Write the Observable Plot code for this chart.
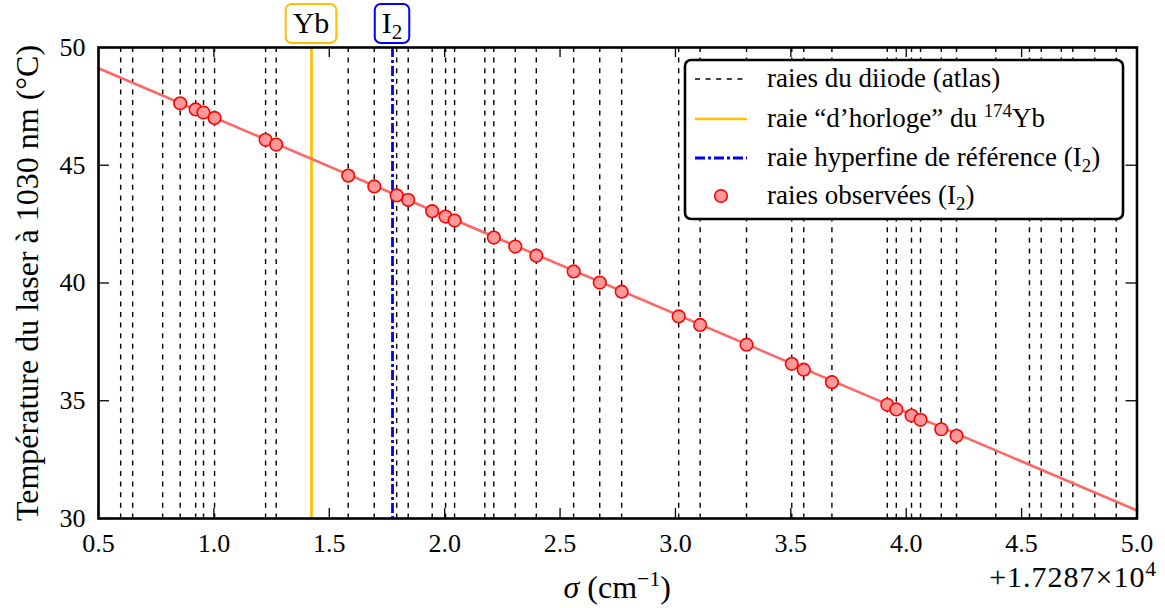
<!DOCTYPE html>
<html><head><meta charset="utf-8">
<script src="https://cdn.jsdelivr.net/npm/d3@7"></script>
<script src="https://cdn.jsdelivr.net/npm/@observablehq/plot@0.6"></script>
<style>
body{margin:0;background:#fff;}
#chart{width:1165px;height:608px;}
#chart svg text, #chart svg tspan{font-family:"Liberation Serif", serif !important;}
</style></head><body><div id="chart"></div>
<script>
// ---- data ----
const atlasLines = [0.596,0.648,0.778,0.854,0.921,0.955,1.003,1.224,1.270,1.582,1.695,1.792,1.842,1.946,2.004,2.043,2.174,2.213,2.306,2.397,2.559,2.672,2.767,3.014,3.107,3.308,3.504,3.556,3.678,3.918,3.957,4.023,4.062,4.152,4.218,4.388,4.534,4.585,4.672,4.722,4.817,4.910];
const obsSigma = [0.854,0.921,0.955,1.003,1.224,1.270,1.582,1.695,1.792,1.842,1.946,2.004,2.043,2.213,2.306,2.397,2.559,2.672,2.767,3.014,3.107,3.308,3.504,3.556,3.678,3.918,3.957,4.023,4.062,4.152,4.218];
const obsTemp  = [47.63,47.37,47.24,47.01,46.08,45.88,44.56,44.10,43.72,43.53,43.05,42.82,42.65,41.93,41.55,41.16,40.49,40.02,39.63,38.58,38.22,37.38,36.57,36.32,35.79,34.83,34.63,34.37,34.19,33.79,33.51];
const ybLine = [1.423];
const i2Line = [1.774];
const fitSigma = [0.5, 5.0];
const fitTemp = [49.12, 30.34];
const xTicks = [0.5,1.0,1.5,2.0,2.5,3.0,3.5,4.0,4.5,5.0];
const yTicks = [30,35,40,45,50];
const yLabel = "Température du laser à 1030 nm (°C)";
const offsetLabel = "+1.7287×10";
const topLabels = ["Yb","I"];

// ---- chart ----
const W = 1165, H = 608, mL = 98, mR = 28.5, mT = 47, mB = 90;
const plotH = H - mT - mB, plotW = W - mL - mR;
const FS = 26, LFS = 32, LEGFS = 27, BOXFS = 30, OFS = 30;
const obs = obsSigma.map((s, i) => ({s, t: obsTemp[i]}));
const fit = fitSigma.map((s, i) => ({s, t: fitTemp[i]}));
const tickStyle = {stroke: "black", strokeWidth: 1.3};

const plot = Plot.plot({
  width: W, height: H,
  marginLeft: mL, marginRight: mR, marginTop: mT, marginBottom: mB,
  style: {fontSize: FS + "px", background: "white", color: "black", overflow: "visible"},
  x: {domain: [0.5, 5.0]},
  y: {domain: [30, 50]},
  marks: [
    Plot.ruleX(atlasLines, {stroke: "black", strokeWidth: 1.4, strokeDasharray: "5,5.6"}),
    Plot.ruleX(ybLine, {stroke: "#ffbf00", strokeWidth: 2.7}),
    Plot.ruleX(i2Line, {stroke: "#0000ff", strokeWidth: 2.8, strokeDasharray: "10,3,3,3"}),
    Plot.line(fit, {x: "s", y: "t", stroke: "#ff6666", strokeWidth: 2.6}),
    Plot.dot(obs, {x: "s", y: "t", r: 6.3, fill: "#ff9999", stroke: "#ff0000", strokeWidth: 1.6}),
    Plot.ruleX(xTicks, {insetTop: plotH - 10, ...tickStyle}),
    Plot.ruleX(xTicks, {insetBottom: plotH - 10, ...tickStyle}),
    Plot.ruleY(yTicks, {insetRight: plotW - 11, ...tickStyle}),
    Plot.ruleY(yTicks, {insetLeft: plotW - 11, ...tickStyle}),
    Plot.frame({stroke: "black", strokeWidth: 2.6}),
    Plot.axisX(xTicks, {tickSize: 0, tickPadding: 15, tickFormat: d => d.toFixed(1), fontSize: FS, label: null}),
    Plot.axisY(yTicks, {tickSize: 0, tickPadding: 13, tickFormat: d => String(d), fontSize: FS, label: null}),
    Plot.text([yLabel], {frameAnchor: "left", textAnchor: "middle", rotate: -90, dx: -71, fontSize: LFS, text: d => d})
  ]
});
document.getElementById("chart").appendChild(plot);

const svg = d3.select(plot);
const xs = plot.scale("x");
const ov = svg.append("g").attr("fill", "black").attr("text-anchor", "start");

// x label
const xl = ov.append("text").attr("x", mL + plotW / 2).attr("y", 598).attr("text-anchor", "middle").attr("font-size", LFS);
xl.append("tspan").attr("font-style", "italic").text("σ");
xl.append("tspan").text(" (cm");
xl.append("tspan").attr("font-size", LFS * 0.68).attr("dy", -12).text("−1");
xl.append("tspan").attr("dy", 12).text(")");

// offset
const ol = ov.append("text").attr("x", 1157).attr("y", 587).attr("text-anchor", "end").attr("font-size", OFS).attr("letter-spacing", 1);
ol.append("tspan").text(offsetLabel);
ol.append("tspan").attr("font-size", OFS * 0.7).attr("dy", -11).text("4");

// boxed labels on top
function boxLabel(xv, color, build) {
  const cx = xs.apply(xv);
  const g = ov.append("g");
  const rect = g.append("rect");
  const t = g.append("text").attr("x", cx).attr("y", 33).attr("text-anchor", "middle").attr("font-size", BOXFS);
  build(t);
  const bb = t.node().getBBox();
  const padX = 7;
  rect.attr("x", cx - bb.width / 2 - padX).attr("y", 4).attr("width", bb.width + 2 * padX).attr("height", 39)
    .attr("rx", 6).attr("fill", "white").attr("stroke", color).attr("stroke-width", 2);
}
boxLabel(ybLine[0], "#ffbf00", t => t.text(topLabels[0]));
boxLabel(i2Line[0], "#0000ff", t => { t.append("tspan").text(topLabels[1]); t.append("tspan").attr("font-size", BOXFS * 0.7).attr("dy", 6).text("2"); });

// legend
const lg = ov.append("g");
lg.append("rect").attr("x", 685).attr("y", 60).attr("width", 438).attr("height", 159).attr("rx", 6)
  .attr("fill", "white").attr("stroke", "black").attr("stroke-width", 2.6);
const rows = [79, 119, 158, 196];
lg.append("line").attr("x1", 695).attr("x2", 747).attr("y1", rows[0]).attr("y2", rows[0]).attr("stroke", "black").attr("stroke-width", 1.4).attr("stroke-dasharray", "5,5.6");
lg.append("line").attr("x1", 695).attr("x2", 747).attr("y1", rows[1]).attr("y2", rows[1]).attr("stroke", "#ffbf00").attr("stroke-width", 2.7);
lg.append("line").attr("x1", 695).attr("x2", 747).attr("y1", rows[2]).attr("y2", rows[2]).attr("stroke", "#0000ff").attr("stroke-width", 2.8).attr("stroke-dasharray", "10,3,3,3");
lg.append("circle").attr("cx", 721).attr("cy", rows[3]).attr("r", 6.3).attr("fill", "#ff9999").attr("stroke", "#ff0000").attr("stroke-width", 1.6);
function ltext(i) { return lg.append("text").attr("x", 767).attr("y", rows[i] + 8).attr("text-anchor", "start").attr("font-size", LEGFS); }
ltext(0).text("raies du diiode (atlas)");
{ const t = ltext(1); t.append("tspan").text("raie “d’horloge” du "); t.append("tspan").attr("font-size", LEGFS * 0.7).attr("dy", -10).text("174"); t.append("tspan").attr("dy", 10).text("Yb"); }
{ const t = ltext(2); t.append("tspan").text("raie hyperfine de référence (I"); t.append("tspan").attr("font-size", LEGFS * 0.7).attr("dy", 6).text("2"); t.append("tspan").attr("dy", -6).text(")"); }
{ const t = ltext(3); t.append("tspan").text("raies observées (I"); t.append("tspan").attr("font-size", LEGFS * 0.7).attr("dy", 6).text("2"); t.append("tspan").attr("dy", -6).text(")"); }
</script>
</body></html>
